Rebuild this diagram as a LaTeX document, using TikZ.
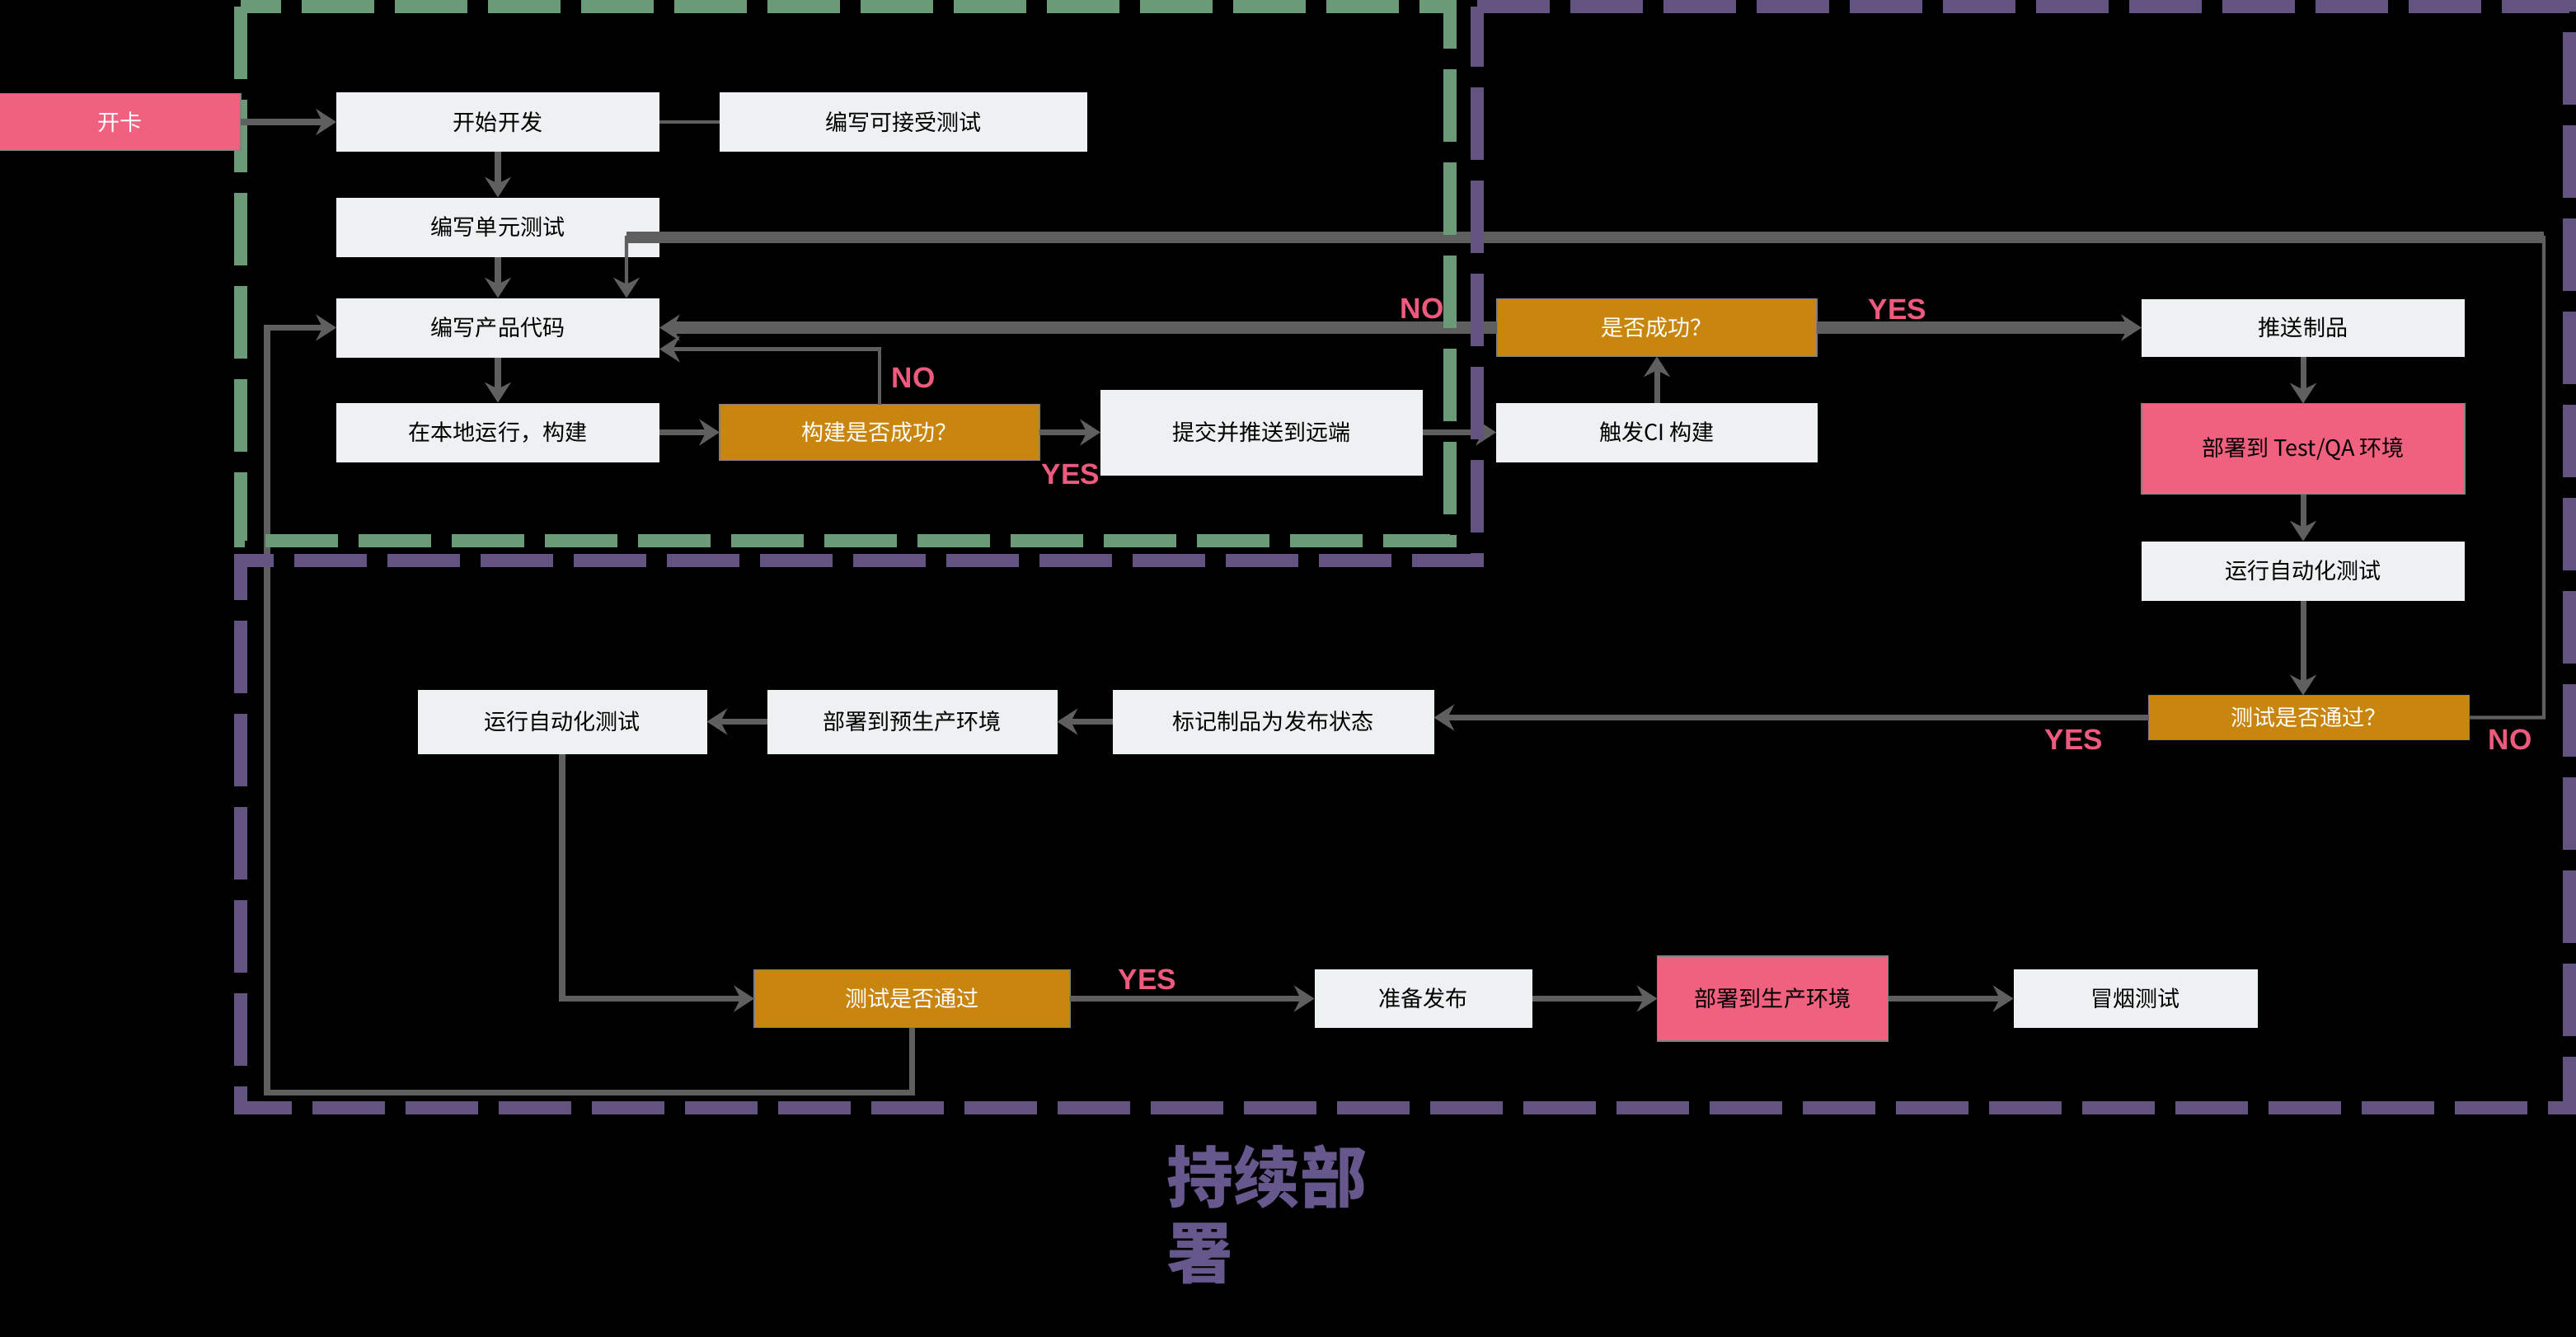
\documentclass[tikz,border=0pt]{standalone}
\usepackage{fontspec}
\setmainfont{Noto Sans CJK SC}
\newfontfamily\tagfont{Liberation Sans}
\usetikzlibrary{arrows.meta, positioning}

\definecolor{boxgray}{HTML}{EEF1F2}
\definecolor{askorange}{HTML}{C9860E}
\definecolor{hotpink}{HTML}{F0617F}
\definecolor{linegray}{HTML}{5F5F5F}
\definecolor{devgreen}{HTML}{6A9A78}
\definecolor{cdpurple}{HTML}{625380}
\definecolor{tagpink}{HTML}{EE5A7E}
\definecolor{titlepurple}{HTML}{66588D}

\begin{document}
\begin{tikzpicture}[>={Stealth[length=7pt,width=9pt]},
    box/.style={fill=boxgray, minimum width=3.92cm, minimum height=0.72cm, inner sep=0pt, outer sep=0pt,
      font=\fontsize{7.7}{9}\selectfont},
    ask/.style={box, fill=askorange, draw=gray, text=white},
    hot/.style={box, fill=hotpink, draw=gray},
    link/.style={draw=linegray, line width=2pt},
    heavy/.style={link, line width=4pt},
    slim/.style={link, line width=1.2pt},
    yesno/.style={text=tagpink, inner sep=0pt, font=\tagfont\bfseries\fontsize{10}{12}\selectfont},
    zone/.style={line width=4.8pt, dash pattern=on 0.88cm off 0.25cm}]
        \useasboundingbox (0,0) rectangle (31.25,-16.22);
        \fill[black] (0,0) rectangle (31.25,-16.22);
        % dev column
        \node[box] (start) at (6.04,-1.48) {开始开发};
        \node[box, right=0.73 of start, minimum width=4.46cm] (accept) {编写可接受测试};
        \node[box, below=0.555 of start] (unit) {编写单元测试};
        \node[box, below=0.5 of unit] (code) {编写产品代码};
        \node[box, below=0.55 of code] (local) {在本地运行，构建};
        \node[ask, right=0.73 of local, minimum width=3.88cm, minimum height=0.68cm] (buildq) {构建是否成功？};
        \node[box, right=0.74 of buildq, minimum width=3.91cm, minimum height=1.04cm] (push) {提交并推送到远端};
        % CI
        \node[box, right=0.89 of push, minimum width=3.9cm] (ci) {触发CI 构建};
        \node[ask, above=0.56 of ci, minimum width=3.88cm, minimum height=0.7cm] (ciq) {是否成功？};
        \node[box, right=3.94 of ciq, minimum height=0.7cm] (artifact) {推送制品};
        \node[hot, below=0.57 of artifact, minimum height=1.1cm] (qa) {部署到 Test/QA 环境};
        \node[box, below=0.57 of qa] (autoR) {运行自动化测试};
        \node[ask, below=1.15 of autoR, xshift=0.7mm, minimum width=3.89cm, minimum height=0.54cm] (testq) {测试是否通过？};
        % release
        \node[box, left=8.67 of testq, yshift=-0.5mm, minimum width=3.9cm, minimum height=0.78cm] (mark) {标记制品为发布状态};
        \node[box, left=0.67 of mark, minimum width=3.52cm, minimum height=0.78cm] (pre) {部署到预生产环境};
        \node[box, left=0.73 of pre, minimum width=3.51cm, minimum height=0.78cm] (autoL) {运行自动化测试};
        \node[ask, below=2.62 of pre, minimum width=3.83cm, minimum height=0.7cm] (passq) {测试是否通过};
        \node[box, right=2.965 of passq, minimum width=2.64cm, minimum height=0.71cm] (ready) {准备发布};
        \node[hot, right=1.52 of ready, minimum width=2.8cm, minimum height=1.03cm] (prod) {部署到生产环境};
        \node[box, right=1.52 of prod, minimum width=2.96cm, minimum height=0.71cm] (smoke) {冒烟测试};
        \coordinate (loopR) at (30.86,-2.88);
        \coordinate (loopL) at (7.60,-2.88);
        \coordinate (back) at (3.24,-13.25);
        \draw[slim] (start) -- (accept);
        \draw[link,->] (start) -- (unit);
        \draw[link,->] (unit) -- (code);
        \draw[link,->] (code) -- (local);
        \draw[link,->] (local) -- (buildq);
        \draw[link,->] (buildq) -- (push);
        \draw[slim,->] (buildq.north) |- ([yshift=-2.6mm]code.east);
        \draw[link,->] (push) -- (ci);
        \draw[link,->] (ci) -- (ciq);
        \draw[heavy,->] (ciq.west) -- (ciq.west -| code.east);
        \draw[heavy,->] (ciq) -- (artifact);
        \draw[link,->] (artifact) -- (qa);
        \draw[link,->] (qa) -- (autoR);
        \draw[link,->] (autoR.south) -- (autoR.south |- testq.north);
        \draw[link,->] (testq.west) -- (testq.west -| mark.east);
        \draw[slim,->] (testq.east) -| (loopR) -- (loopL) -- ([xshift=15.6mm]code.north);
        \draw[heavy] (loopR) -- (loopL);
        \draw[link,->] (mark) -- (pre);
        \draw[link,->] (pre) -- (autoL);
        \draw[link,->] (autoL.south) |- (passq.west);
        \draw[link,->] (passq) -- (ready);
        \draw[link,->] (passq.south) |- (back) |- (code.west);
        \draw[link,->] (ready) -- (prod);
        \draw[link,->] (prod) -- (smoke);
        \node[yesno] (yes1) at (12.99,-5.75) {YES};
        \node[yesno] (no1) at (11.08,-4.58) {NO};
        \node[yesno] (no2) at (17.25,-3.74) {NO};
        \node[yesno] (yes2) at (23.02,-3.75) {YES};
        \node[yesno] (yes3) at (25.16,-8.97) {YES};
        \node[yesno] (no3) at (30.45,-8.97) {NO};
        \node[yesno] (yes4) at (13.92,-11.88) {YES};
        % stage frames
        \draw[zone, draw=devgreen] (2.92,-0.08) rectangle (17.59,-6.56);
        \draw[zone, draw=cdpurple] (17.92,-0.08) -- (31.17,-0.08) -- (31.17,-13.44) -- (2.92,-13.44)
            -- (2.92,-6.80) -- (17.92,-6.80) -- cycle;
        \node[anchor=north west, inner sep=0pt, align=left, text=titlepurple,
            font=\fontsize{23}{26}\selectfont\bfseries] (title) at (14.15,-13.88) {持续部\\署};
        \node[box, fill=hotpink, draw=gray, text=white, left=1.16 of start, minimum width=2.93cm,
            minimum height=0.69cm] (card) {开卡};
        \draw[link,->] (card) -- (start);
\end{tikzpicture}
\end{document}
